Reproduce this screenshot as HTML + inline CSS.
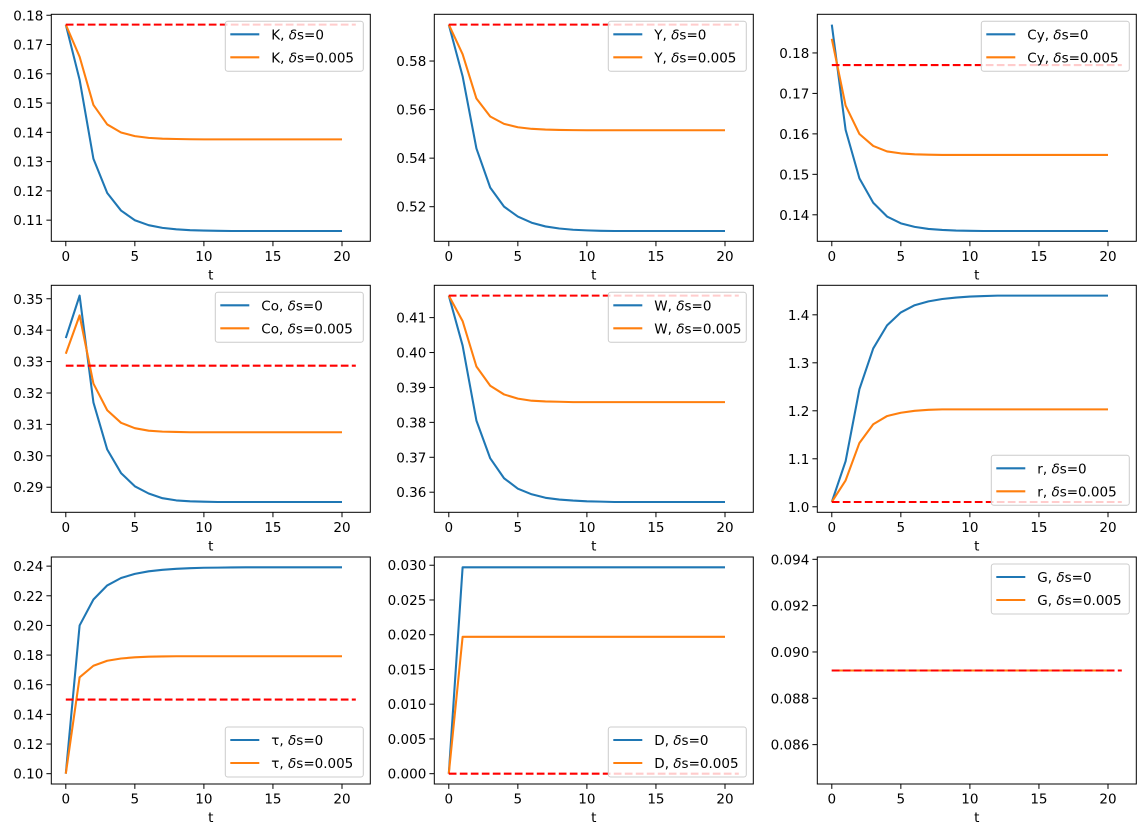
<!DOCTYPE html>
<html><head><meta charset="utf-8"><style>
html,body{margin:0;padding:0;background:#fff;}
svg{display:block;font-family:"DejaVu Sans","Liberation Sans",sans-serif;}
</style></head><body>
<svg id="s" width="1145" height="837" xmlns="http://www.w3.org/2000/svg"></svg>
<script>
const S=document.getElementById('s');
const NS='http://www.w3.org/2000/svg';
function el(t,a,p){const e=document.createElementNS(NS,t);for(const k in a)e.setAttribute(k,a[k]);(p||S).appendChild(e);return e;}
function mk(start,end,shape){const r=[];for(let t=0;t<=20;t++){const f=t<shape.length?shape[t]:0;r.push(end+(start-end)*f);}return r;}
function arr(v,n){const r=v.slice();while(r.length<21)r.push(r[r.length-1]);return r;}
const KB=[1,.733,.35,.184,.099,.052,.028,.015,.008,.004,.002,.001];
const YB=[1,.75,.40,.21,.118,.07,.04,.022,.012,.006,.003,.001];
const KO=[1,.72,.30,.13,.06,.028,.013,.006,.003,.001];
const CB=[1,.49,.255,.137,.07,.037,.02,.01,.005,.002,.001];
const CO=[1,.425,.18,.077,.03,.013,.005,.002];
const P=[
{n:'K',b:mk(.1768,.1063,KB),o:mk(.1768,.1376,KO),r:.1768,tk:[.11,.12,.13,.14,.15,.16,.17,.18],d:2,lg:'ur'},
{n:'Y',b:mk(.595,.510,YB),o:mk(.595,.5515,KO),r:.595,tk:[.52,.54,.56,.58],d:2,lg:'ur'},
{n:'Cy',b:mk(.187,.136,CB),o:mk(.1835,.1548,CO),r:.177,tk:[.14,.15,.16,.17,.18],d:2,lg:'ur'},
{n:'Co',b:arr([.3375,.351,.317,.302,.2945,.2903,.288,.2865,.2858,.2855,.2854,.2853]),o:arr([.3325,.3447,.323,.3145,.3105,.3088,.308,.3077,.3076,.3075]),r:.3287,tk:[.29,.30,.31,.32,.33,.34,.35],d:2,lg:'ur'},
{n:'W',b:arr([.4163,.402,.3805,.3697,.364,.361,.3594,.3584,.3579,.3576,.3574,.3573,.3572]),o:arr([.4163,.409,.396,.3905,.388,.3868,.3862,.386,.3859,.3858]),r:.4163,tk:[.36,.37,.38,.39,.40,.41],d:2,lg:'ur'},
{n:'r',b:arr([1.01,1.095,1.245,1.33,1.378,1.405,1.42,1.428,1.433,1.436,1.438,1.439,1.44]),o:arr([1.01,1.055,1.133,1.172,1.189,1.196,1.2,1.202,1.203]),r:1.01,tk:[1.0,1.1,1.2,1.3,1.4],d:1,lg:'lr'},
{n:'τ',b:arr([.10,.200,.2175,.227,.232,.2348,.2365,.2375,.2382,.2386,.2389,.239,.2391,.2392]),o:arr([.10,.165,.1728,.1762,.1777,.1785,.1789,.1791,.1792]),r:.15,tk:[.10,.12,.14,.16,.18,.20,.22,.24],d:2,lg:'lr'},
{n:'D',b:arr([0,.0297]),o:arr([0,.0197]),r:0,tk:[0,.005,.01,.015,.02,.025,.03],d:3,lg:'lr'},
{n:'G',b:arr([.0892]),o:arr([.0892]),r:.0892,tk:[.086,.088,.090,.092,.094],d:3,lg:'ur',yl:[.0843,.0941]}
];
const XS=[51.3,434.3,817.3],YS=[14.3,285.3,557],W=319,H=227;
P.forEach((p,i)=>{
 const x0=XS[i%3],y0=YS[Math.floor(i/3)];
 let yl=p.yl;
 if(!yl){const all=p.b.concat(p.o,[p.r]);const mn=Math.min(...all),mx=Math.max(...all),m=(mx-mn)*.05;yl=[mn-m,mx+m];}
 const X=t=>x0+(t+1.05)/23.1*W, Y=v=>y0+H-(v-yl[0])/(yl[1]-yl[0])*H;
 const g=el('g',{});
 const cid='c'+i;const cp=el('clipPath',{id:cid},g);el('rect',{x:x0,y:y0,width:W,height:H},cp);
 const line=(d,c)=>el('polyline',{points:d.map((v,t)=>X(t).toFixed(2)+','+Y(v).toFixed(2)).join(' '),fill:'none',stroke:c,'stroke-width':2.08,'stroke-linejoin':'round','clip-path':'url(#'+cid+')'},g);
 line(p.b,'#1f77b4');line(p.o,'#ff7f0e');
 el('line',{x1:X(0),x2:X(21),y1:Y(p.r),y2:Y(p.r),stroke:'red','stroke-width':2.08,'stroke-dasharray':'7.7,3.3'},g);
 const lw=p.n.length>1?148:138, lh=50;
 const lx=x0+W-7-lw, ly=p.lg=='ur'?y0+7:y0+H-7-lh;
 el('rect',{x:lx,y:ly,width:lw,height:lh,rx:2.5,fill:'rgba(255,255,255,0.8)',stroke:'#ccc','stroke-width':1},g);
 [['#1f77b4','0'],['#ff7f0e','0.005']].forEach((q,k)=>{
  const yy=ly+13+k*23;
  el('line',{x1:lx+5,x2:lx+34,y1:yy,y2:yy,stroke:q[0],'stroke-width':2.08},g);
  const t=el('text',{x:lx+46,y:yy+5,'font-size':13.5,fill:'#000'},g);
  t.innerHTML=p.n+', <tspan font-style="italic">δ</tspan>s='+q[1];
 });
 el('rect',{x:x0,y:y0,width:W,height:H,fill:'none',stroke:'#000','stroke-width':1},g);
 for(let t=0;t<=20;t+=5){const xx=X(t);el('line',{x1:xx,x2:xx,y1:y0+H,y2:y0+H+4.9,stroke:'#000','stroke-width':1},g);
  const tx=el('text',{x:xx,y:y0+H+19.5,'font-size':13.5,'text-anchor':'middle'},g);tx.textContent=t;}
 const tl=el('text',{x:x0+W/2,y:y0+H+38,'font-size':13.5,'text-anchor':'middle'},g);tl.textContent='t';
 p.tk.forEach(v=>{const yy=Y(v);el('line',{x1:x0-4.9,x2:x0,y1:yy,y2:yy,stroke:'#000','stroke-width':1},g);
  const tx=el('text',{x:x0-8,y:yy+5,'font-size':13.5,'text-anchor':'end'},g);tx.textContent=v.toFixed(p.d);});
});
</script>
</body></html>
